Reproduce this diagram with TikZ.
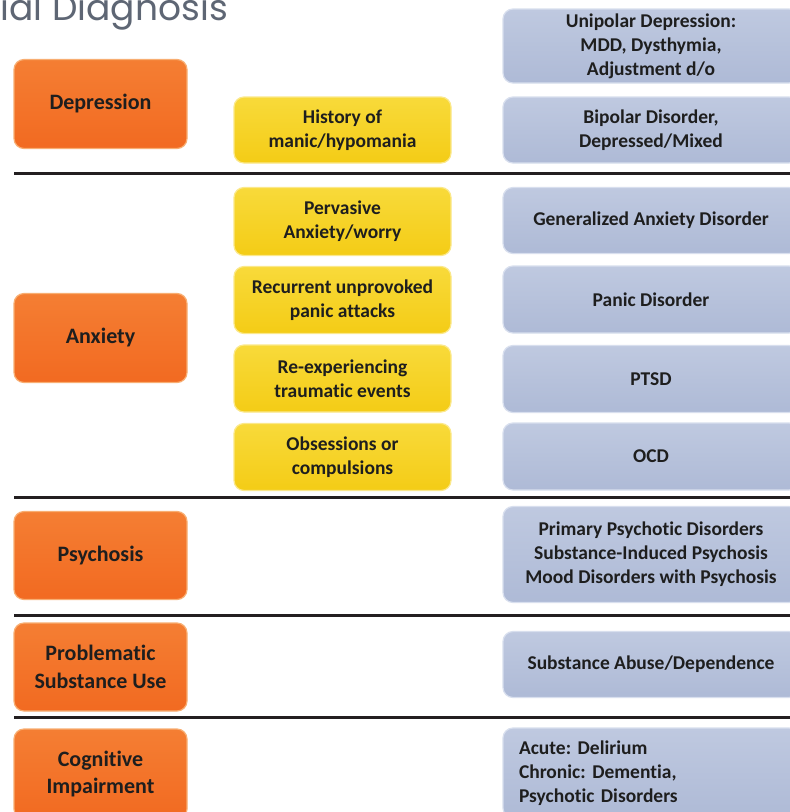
\documentclass[tikz,border=0pt]{standalone}
\usepackage{fontspec}
\setmainfont{Carlito}[Ligatures={NoCommon,NoRare,NoDiscretionary,NoContextual}]
\newfontfamily\titlefont{Poppins}
\frenchspacing
\definecolor{orfill}{HTML}{F26A21}
\definecolor{ortop}{HTML}{F47E33}
\definecolor{oredge}{HTML}{F8AE72}
\definecolor{yefill}{HTML}{F4CC16}
\definecolor{yetop}{HTML}{F8DA3A}
\definecolor{yeedge}{HTML}{FBE88A}
\definecolor{blfill}{HTML}{AEBAD6}
\definecolor{bltop}{HTML}{BFC9E0}
\definecolor{bledge}{HTML}{D8DFEE}
\definecolor{txt}{HTML}{1E1E1E}
\definecolor{rule}{HTML}{231F20}
\definecolor{ttl}{HTML}{5E6674}
\tikzset{
  basebox/.style={rectangle, rounded corners=10pt, line width=1.2pt, inner sep=0pt, align=center, text=txt},
  obox/.style={basebox, top color=ortop, bottom color=orfill, draw=oredge,
    minimum width=173pt, minimum height=89pt, font=\fontsize{22}{28}\selectfont\bfseries},
  ybox/.style={basebox, top color=yetop, bottom color=yefill, draw=yeedge,
    minimum width=217pt, minimum height=67pt, font=\fontsize{19.5}{24}\selectfont\bfseries},
  bbox/.style={basebox, top color=bltop, bottom color=blfill, draw=bledge,
    minimum width=296pt, minimum height=66pt, font=\fontsize{19.5}{24}\selectfont\bfseries},
  sep/.style={line width=3pt, draw=rule},
}
\begin{document}
\begin{tikzpicture}[x=1pt,y=-1pt]
\path[use as bounding box, clip] (0,0) rectangle (790,812);
\fill[white] (0,0) rectangle (790,812);
% title
\node[anchor=base east, inner sep=0pt, text=ttl, font=\titlefont\fontsize{36}{42}\selectfont] (title) at (228,20) {ial Diagnosis};
% separators
\coordinate (l1a) at (14,173); \coordinate (l1b) at (790,173);
\coordinate (l2a) at (14,497); \coordinate (l2b) at (790,497);
\coordinate (l3a) at (14,615); \coordinate (l3b) at (790,615);
\coordinate (l4a) at (14,717); \coordinate (l4b) at (790,717);
\draw[sep] (l1a) -- (l1b);
\draw[sep] (l2a) -- (l2b);
\draw[sep] (l3a) -- (l3b);
\draw[sep] (l4a) -- (l4b);
% orange
\node[obox] (dep) at (100.5,104) {Depression};
\node[obox] (anx) at (100.5,338) {Anxiety};
\node[obox, minimum height=88pt] (psy) at (100.5,555.5) {Psychosis};
\node[obox, minimum height=88pt] (sub) at (100.5,667) {Problematic\\Substance Use};
\node[obox, minimum height=90pt] (cog) at (100.5,774) {Cognitive\\Impairment};
% yellow
\node[ybox, minimum height=66pt] (hist) at (342.5,130) {History of\\manic/hypomania};
\node[ybox, minimum height=68pt] (perv) at (342.5,221.5) {Pervasive\\Anxiety/worry};
\node[ybox] (rec) at (342.5,300) {Recurrent unprovoked\\panic attacks};
\node[ybox] (reex) at (342.5,378.5) {Re-experiencing\\traumatic events};
\node[ybox] (obs) at (342.5,457) {Obsessions or\\compulsions};
% blue
\node[bbox, minimum height=74pt] (uni) at (651,46) {Unipolar Depression:\\MDD, Dysthymia,\\Adjustment d/o};
\node[bbox] (bip) at (651,130) {Bipolar Disorder,\\Depressed/Mixed};
\node[bbox] (gad) at (651,220.5) {Generalized Anxiety Disorder};
\node[bbox, minimum height=67pt] (pan) at (651,299.5) {Panic Disorder};
\node[bbox, minimum height=67pt] (ptsd) at (651,379) {PTSD};
\node[bbox, minimum height=67pt] (ocd) at (651,456.5) {OCD};
\node[bbox, minimum height=96pt] (psyb) at (651,554.5) {Primary Psychotic Disorders\\Substance-Induced Psychosis\\Mood Disorders with Psychosis};
\node[bbox] (subb) at (651,664.5) {Substance Abuse/Dependence};
\node[bbox, minimum height=90pt, align=left, text width=264pt, inner xsep=16pt] (cogb) at (651,773) {Acute: Delirium\\Chronic: Dementia,\\Psychotic Disorders};
\end{tikzpicture}
\end{document}
